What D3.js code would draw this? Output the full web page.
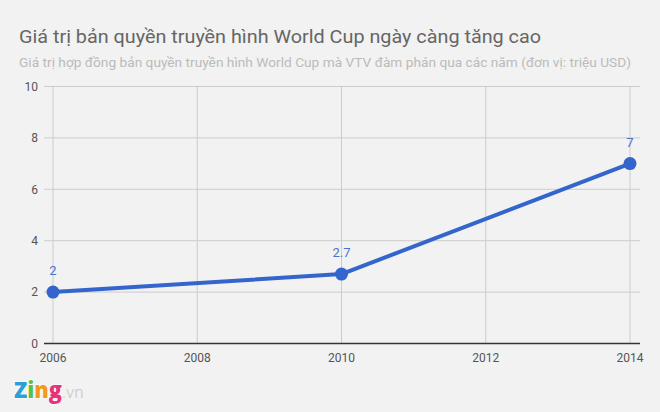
<!DOCTYPE html>
<html><head><meta charset="utf-8">
<script src="https://cdn.jsdelivr.net/npm/d3@7"></script>
<style>body{margin:0;background:#f2f2f2;}svg{display:block;}</style>
</head><body>
<script>
const years = [2006, 2010, 2014];
const values = [2, 2.7, 7];
const labels = ["2", "2.7", "7"];
const xTicks = [2006, 2008, 2010, 2012, 2014];
const yTicks = [0, 2, 4, 6, 8, 10];
const title = "Giá trị bản quyền truyền hình World Cup ngày càng tăng cao";
const subtitle = "Giá trị hợp đồng bản quyền truyền hình World Cup mà VTV đàm phán qua các năm (đơn vị: triệu USD)";

const W = 660, H = 412;
const svg = d3.select("body").append("svg").attr("width", W).attr("height", H);
svg.append("rect").attr("width", W).attr("height", H).attr("fill", "#f2f2f2");
const font = "Roboto, 'Noto Sans', sans-serif";

svg.append("text").attr("x", 19).attr("y", 43).text(title)
  .attr("font-family", font).attr("font-size", 18).attr("fill", "#666")
  .attr("textLength", 522).attr("lengthAdjust", "spacingAndGlyphs");
svg.append("text").attr("x", 19).attr("y", 67).text(subtitle)
  .attr("font-family", font).attr("font-size", 13).attr("fill", "#bbb")
  .attr("textLength", 612).attr("lengthAdjust", "spacingAndGlyphs");

const x = d3.scaleLinear().domain([2006, 2014]).range([53, 630]);
const y = d3.scaleLinear().domain([0, 10]).range([343.5, 86.5]);

svg.append("g").selectAll("line").data(yTicks.filter(d => d > 0)).join("line")
  .attr("x1", 44).attr("x2", 640).attr("y1", d => y(d)).attr("y2", d => y(d))
  .attr("stroke", "#ccc").attr("stroke-width", 1);
svg.append("g").selectAll("line").data(xTicks).join("line")
  .attr("x1", d => x(d)).attr("x2", d => x(d)).attr("y1", y(10)).attr("y2", y(0))
  .attr("stroke", "#ccc").attr("stroke-width", 1);
svg.append("line").attr("x1", 44).attr("x2", 640).attr("y1", y(0)).attr("y2", y(0))
  .attr("stroke", "#333").attr("stroke-width", 1.5);

svg.append("g").selectAll("text").data(yTicks).join("text")
  .attr("x", 38).attr("y", d => y(d)).attr("dy", "0.35em").attr("text-anchor", "end")
  .text(d => d).attr("font-family", font).attr("font-size", 12).attr("fill", "#555");
svg.append("g").selectAll("text").data(xTicks).join("text")
  .attr("x", d => x(d)).attr("y", 362).attr("text-anchor", "middle")
  .text(d => d).attr("font-family", font).attr("font-size", 12).attr("fill", "#555");

const pts = years.map((yr, i) => ({yr, v: values[i], l: labels[i]}));
svg.append("path").datum(pts)
  .attr("d", d3.line().x(d => x(d.yr)).y(d => y(d.v)))
  .attr("fill", "none").attr("stroke", "#3465cc").attr("stroke-width", 4)
  .attr("stroke-linejoin", "round");
svg.append("g").selectAll("circle").data(pts).join("circle")
  .attr("cx", d => x(d.yr)).attr("cy", d => y(d.v)).attr("r", 6.5).attr("fill", "#3465cc");
svg.append("g").selectAll("text").data(pts).join("text")
  .attr("x", d => x(d.yr)).attr("y", d => y(d.v) - 17).attr("text-anchor", "middle")
  .text(d => d.l).attr("font-family", font).attr("font-size", 13).attr("fill", "#4a72c8");

// logo
const logo = svg.append("text").attr("x", 14).attr("y", 398)
  .attr("font-family", "'Open Sans', Roboto, sans-serif").attr("font-weight", 800);
const zing = logo.append("tspan").attr("font-size", 22).attr("textLength", 48).attr("lengthAdjust", "spacingAndGlyphs");
[["Z", "#2a9fd8"], ["i", "#5bbf4a"], ["n", "#f39a1c"], ["g", "#e6337a"]].forEach(([c, col]) =>
  zing.append("tspan").text(c).attr("fill", col).attr("stroke", "#fff").attr("stroke-width", 1.2).attr("paint-order", "stroke"));
logo.append("tspan").text(".vn").attr("fill", "#c8c8c8").attr("font-weight", 300).attr("font-size", 17)
  .attr("font-family", "Roboto, sans-serif");
</script>
</body></html>
